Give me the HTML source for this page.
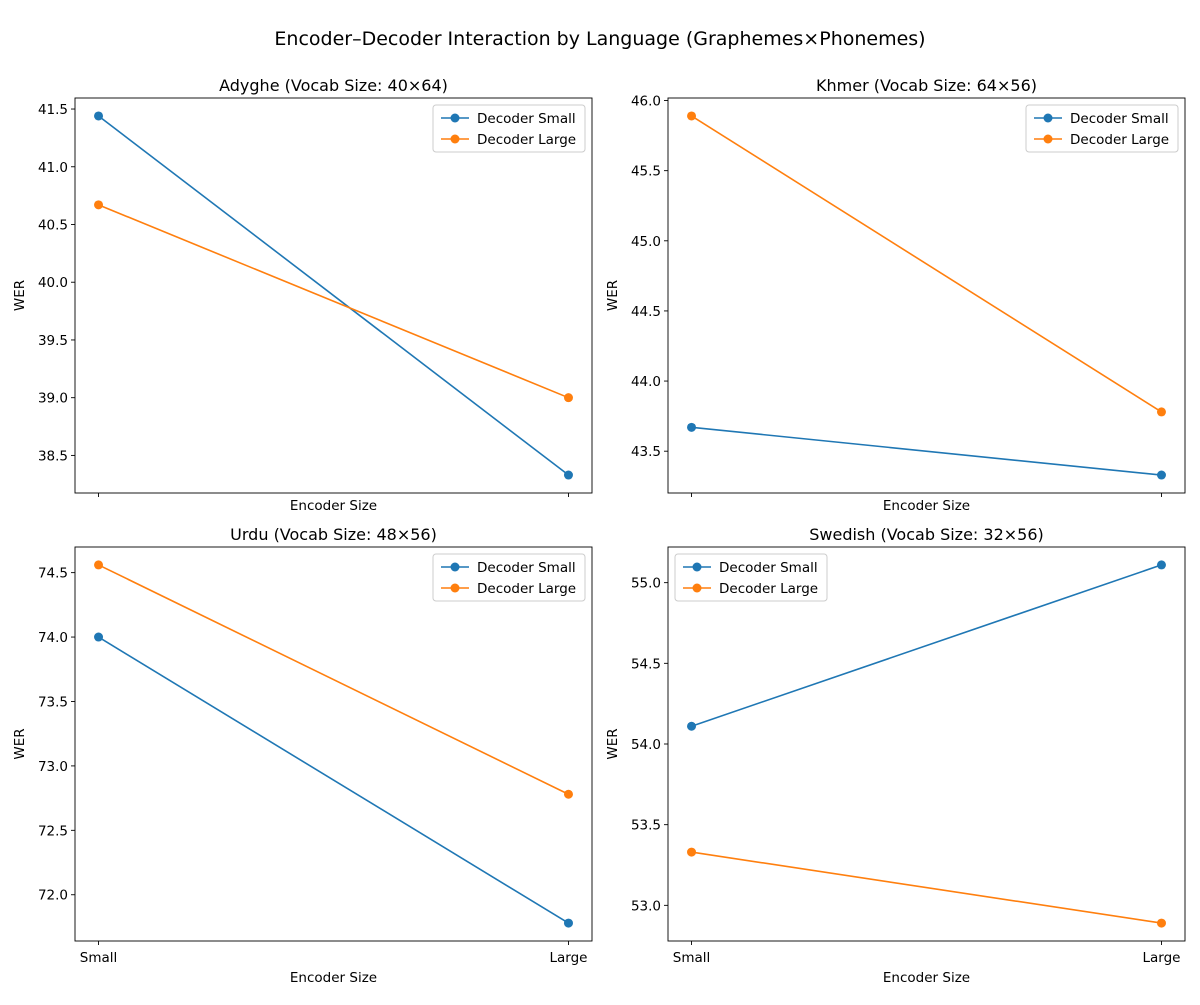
<!DOCTYPE html>
<html><head><meta charset="utf-8"><style>
body{margin:0;background:#fff;}
svg{font-family:"DejaVu Sans","Liberation Sans",sans-serif;}
</style></head><body>
<svg id="c" width="1200" height="1000" xmlns="http://www.w3.org/2000/svg">
<rect width="1200" height="1000" fill="#fff"/>
<text x="600" y="45" font-size="19" text-anchor="middle">Encoder–Decoder Interaction by Language (Graphemes×Phonemes)</text>
</svg>
<script>
const categories = ["Small", "Large"];
const panelTitles = ["Adyghe (Vocab Size: 40×64)", "Khmer (Vocab Size: 64×56)", "Urdu (Vocab Size: 48×56)", "Swedish (Vocab Size: 32×56)"];
const decoderSmall = [[41.44, 38.33], [43.67, 43.33], [74.0, 71.78], [54.11, 55.11]];
const decoderLarge = [[40.67, 39.0], [45.89, 43.78], [74.56, 72.78], [53.33, 52.89]];
const seriesNames = ["Decoder Small", "Decoder Large"];
const legendLoc = ["right", "right", "right", "left"];

const NS = "http://www.w3.org/2000/svg";
const svg = document.getElementById("c");
function mk(tag, attrs, parent) {
  const e = document.createElementNS(NS, tag);
  for (const k in attrs) e.setAttribute(k, attrs[k]);
  (parent || svg).appendChild(e);
  return e;
}
const boxes = [[75, 98, 592, 493], [668, 98, 1185, 493], [75, 547, 592, 941], [668, 547, 1185, 941]];
const colors = ["#1f77b4", "#ff7f0e"];
boxes.forEach((b, p) => {
  const [x0, y0, x1, y1] = b;
  const g = mk("g", {});
  
  
  const all = decoderSmall[p].concat(decoderLarge[p]);
  let mn = Math.min(...all), mx = Math.max(...all), r = mx - mn;
  const lo = mn - 0.05 * r, hi = mx + 0.05 * r;
  const y = v => y1 - (v - lo) / (hi - lo) * (y1 - y0);
  const xr = (x1 - x0);
  const x = i => x0 + xr * 0.0455 + i * xr * 0.909 / (categories.length - 1);
  const t = mk("text", {x: (x0 + x1) / 2, y: y0 - 7, "font-size": 16, "text-anchor": "middle"}, g);
  t.textContent = panelTitles[p];
  
  
  for (let v = Math.ceil(lo * 2) / 2; v <= hi + 1e-9; v += 0.5) {
    const yy = y(v);
    mk("line", {x1: x0 - 4, x2: x0, y1: yy, y2: yy, stroke: "#000", "stroke-width": 0.9}, g);
    const tl = mk("text", {x: x0 - 7, y: yy + 5, "font-size": 13.5, "text-anchor": "end"}, g);
    tl.textContent = v.toFixed(1);
    
    
  }
  categories.forEach((c, i) => {
    mk("line", {x1: x(i), x2: x(i), y1: y1, y2: y1 + 4, stroke: "#000", "stroke-width": 0.9}, g);
    if (p >= 2) {
      const tl = mk("text", {x: x(i), y: y1 + 21, "font-size": 13.5, "text-anchor": "middle"}, g);
      tl.textContent = c;
      
      
    }
  });
  const xl = mk("text", {x: (x0 + x1) / 2, y: y1 + (p >= 2 ? 41 : 17), "font-size": 13.5, "text-anchor": "middle"}, g);
  xl.textContent = "Encoder Size";
  
  
  const yl = mk("text", {x: 0, y: 0, "font-size": 13.5, "text-anchor": "middle", transform: `translate(${x0 - 51},${(y0 + y1) / 2}) rotate(-90)`}, g);
  yl.textContent = "WER";
  
  
  [decoderSmall[p], decoderLarge[p]].forEach((vals, s) => {
    const pts = vals.map((v, i) => x(i) + "," + y(v)).join(" ");
    const pl = mk("polyline", {points: pts, fill: "none", stroke: colors[s], "stroke-width": 1.6}, g);
    
    
    vals.forEach((v, i) => {
      const c = mk("circle", {cx: x(i), cy: y(v), r: 4.5, fill: colors[s]}, g);
      
      
    });
  });
  mk("rect", {x: x0, y: y0, width: x1 - x0, height: y1 - y0, fill: "none", stroke: "#000", "stroke-width": 0.9}, g);
  const lw = 152, lh = 47;
  const lx = legendLoc[p] === "right" ? x1 - 7 - lw : x0 + 7;
  const ly = y0 + 7;
  const lg = mk("g", {}, g);
  
  
  mk("rect", {x: lx, y: ly, width: lw, height: lh, rx: 3, fill: "#fff", "fill-opacity": 0.8, stroke: "#ccc"}, lg);
  seriesNames.forEach((n, s) => {
    const yy = ly + 13 + s * 21;
    mk("line", {x1: lx + 8, x2: lx + 36, y1: yy, y2: yy, stroke: colors[s], "stroke-width": 1.6}, lg);
    mk("circle", {cx: lx + 22, cy: yy, r: 4.5, fill: colors[s]}, lg);
    const lt = mk("text", {x: lx + 44, y: yy + 5, "font-size": 13.5}, lg);
    lt.textContent = n;
    
    
  });
});
</script>
</body></html>
